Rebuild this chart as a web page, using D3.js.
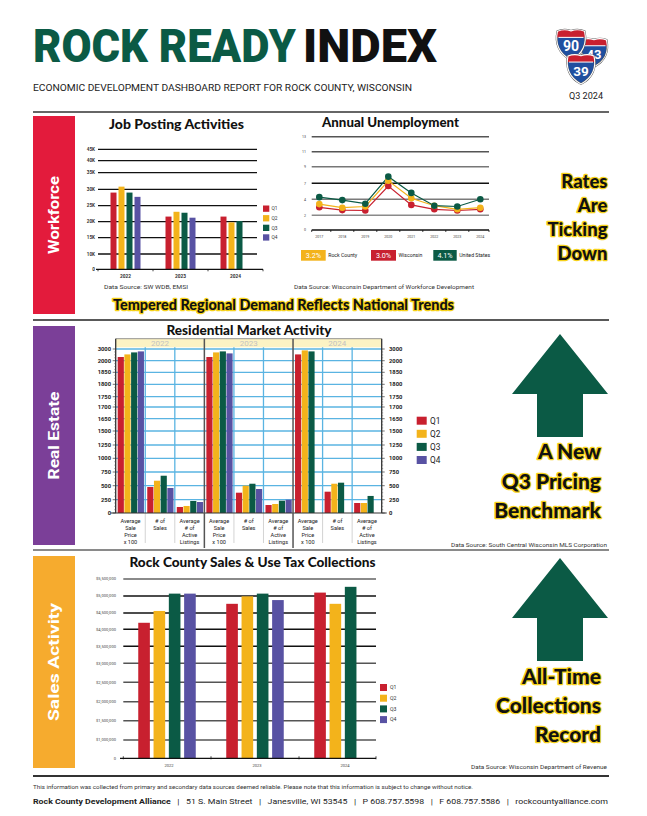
<!DOCTYPE html>
<html><head><meta charset="utf-8">
<script src="https://cdn.jsdelivr.net/npm/d3@7"></script>
<style>body{margin:0;background:#fff}svg{display:block}</style>
</head><body>
<svg id="c" width="647" height="816"></svg>
<script>
// ---------------- DATA ----------------
const quarters = ["Q1","Q2","Q3","Q4"];

const jobYears = ["2022","2023","2024"];
const jobQ1 = [29000, 21600, 21600];
const jobQ2 = [30800, 23100, 19800];
const jobQ3 = [29000, 22800, 20200];
const jobQ4 = [27700, 21250, null];
const jobTicks = [0,10000,15000,20000,25000,30000,35000,40000,45000];
const jobTickLabels = ["0","10K","15K","20K","25K","30K","35K","40K","45K"];

const unempYears = ["2017","2018","2019","2020","2021","2022","2023","2024"];
const rockCounty   = [3.4, 2.95, 3.1, 7.3, 4.2, 3.2, 2.75, 2.95];
const wisconsin    = [3.0, 2.65, 2.6, 6.5, 3.3, 2.75, 2.6, 2.75];
const unitedStates = [4.4, 3.9, 3.45, 7.8, 5.2, 3.2, 3.1, 4.0];
const unempTicks = [0,2,4,7,9,11,13];
const unempNames = ["Rock County","Wisconsin","United States"];
const unempLatest = ["3.2%","3.0%","4.1%"];

const resYears = ["2022","2023","2024"];
const resMetrics = ["price","sales","listings"];
const resMetricLabels = [["Average","Sale","Price","x 100"],["# of","Sales"],["Average","# of","Active","Listings"]];
// order: 2022 (price, sales, listings), 2023 (...), 2024 (...)
const resQ1 = [2316, 477, 113, 2316, 375, 150, 2538, 393, 188];
const resQ2 = [2538, 591, 132, 2709, 500, 169, 2880, 536, 188];
const resQ3 = [2709, 682, 226, 2795, 536, 231, 2795, 555, 317];
const resQ4 = [2795, 459, 207, 2624, 441, 250, null, null, null];
const resTicks = [0,250,500,750,1000,1250,1500,1650,1700,1750,1800,1850,2000,3000];

const salesYears = ["2022","2023","2024"];
const salesQ1 = [4200000, 4770000, 5100000];
const salesQ2 = [4560000, 4990000, 4770000];
const salesQ3 = [5070000, 5070000, 5270000];
const salesQ4 = [5070000, 4880000, null];
const salesTicks = [0,1000000,1500000,2000000,2500000,3000000,3500000,4000000,4500000,5000000,5500000];

// ---------------- STYLE ----------------
const GREEN = "#0b5a45";
const qColors = ["#c8202f","#f3b31b","#0b5a45","#5852a3"];
const SANS = "Roboto, 'Noto Sans', 'Liberation Sans', sans-serif";
const HEAVY = "Lato, 'Open Sans', 'DejaVu Sans', sans-serif";
const svg = d3.select("#c");
svg.append("rect").attr("width",647).attr("height",816).attr("fill","#fff");

function T(p, x, y, s, o = {}) {
  const t = p.append("text").attr("x", x).attr("y", y).text(s)
    .attr("font-family", o.ff || SANS).attr("font-size", o.fs || 6)
    .attr("fill", o.fill || "#222").attr("font-weight", o.fw || 400)
    .attr("text-anchor", o.anchor || "start");
  if (o.len) t.attr("textLength", o.len).attr("lengthAdjust", "spacingAndGlyphs");
  if (o.glow) t.attr("stroke", "#f6d21a").attr("stroke-width", o.glow).attr("paint-order", "stroke").attr("stroke-linejoin", "round");
  return t;
}
function L(p, x1, y1, x2, y2, c, w) {
  return p.append("line").attr("x1",x1).attr("y1",y1).attr("x2",x2).attr("y2",y2).attr("stroke",c).attr("stroke-width",w);
}
// text squeezed horizontally to a target width via a transform
function fitText(x, y, s, width, o) {
  const g = svg.append("g");
  const t = T(g, 0, 0, s, o);
  const w = t.node().getComputedTextLength() || width;
  g.attr("transform", `translate(${x},${y}) scale(${width / w},1)`);
  return t;
}

// ---------------- HEADER ----------------
fitText(33, 62, "ROCK READY", 263, {ff:"Roboto, 'Liberation Sans', sans-serif", fw:900, fs:47, fill:GREEN});
fitText(303, 62, "INDEX", 134, {ff:"Roboto, 'Liberation Sans', sans-serif", fw:900, fs:47, fill:"#111"});
T(svg, 33, 91, "ECONOMIC DEVELOPMENT DASHBOARD REPORT FOR ROCK COUNTY, WISCONSIN", {fs:9.5, len:379, fill:"#222"});
T(svg, 586, 99, "Q3 2024", {fs:8.5, anchor:"middle", len:34, fill:"#222"});

// interstate shields
const defs = svg.append("defs");
function shield(id, cx, top, w, label) {
  const h = w * 1.15, x0 = cx - w / 2;
  const p = d3.path();
  p.moveTo(x0, top + h * 0.07);
  p.quadraticCurveTo(x0 + w * 0.25, top - h * 0.02, cx, top + h * 0.06);
  p.quadraticCurveTo(x0 + w * 0.75, top - h * 0.02, x0 + w, top + h * 0.07);
  p.bezierCurveTo(x0 + w * 1.1, top + h * 0.45, x0 + w * 0.95, top + h * 0.8, cx, top + h);
  p.bezierCurveTo(x0 + w * 0.05, top + h * 0.8, x0 - w * 0.1, top + h * 0.45, x0, top + h * 0.07);
  p.closePath();
  defs.append("clipPath").attr("id", id).append("path").attr("d", p.toString());
  const g = svg.append("g");
  g.append("path").attr("d", p.toString()).attr("fill", "#1f4f9f").attr("stroke", "#555").attr("stroke-width", 2);
  g.append("rect").attr("x", x0 - 3).attr("y", top - 3).attr("width", w + 6).attr("height", h * 0.27 + 3)
    .attr("fill", "#c8202f").attr("clip-path", `url(#${id})`);
  g.append("path").attr("d", p.toString()).attr("fill", "none").attr("stroke", "#fff").attr("stroke-width", 1.1);
  L(g, x0 + 1, top + h * 0.27, x0 + w - 1, top + h * 0.27, "#fff", 1);
  T(g, cx, top + h * 0.72, label, {fs: w * 0.52, fw: 700, fill: "#fff", anchor: "middle", ff: "Roboto, sans-serif"});
}
shield("s43", 594, 38, 25, "43");
shield("s90", 571, 29, 27, "90");
shield("s39", 581, 54, 26, "39");

// ---------------- SECTION FRAMES ----------------
L(svg, 33, 112, 609, 112, "#333", 1.5);
L(svg, 33, 320, 609, 320, "#222", 1.5);
L(svg, 33, 550, 609, 550, "#8a8a8a", 2);
L(svg, 33, 776, 609, 776, "#333", 2);

const sections = [
  {name:"Workforce", color:"#e31b3c", y0:116, y1:314, len:78},
  {name:"Real Estate", color:"#7b3f98", y0:326, y1:545, len:88},
  {name:"Sales Activity", color:"#f6ab2e", y0:556, y1:768, len:118}
];
sections.forEach(s => {
  svg.append("rect").attr("x",33).attr("y",s.y0).attr("width",42).attr("height",s.y1-s.y0).attr("fill",s.color);
  const cy = (s.y0 + s.y1) / 2;
  T(svg, 0, 0, s.name, {fs:15, fw:700, fill:"#fff", anchor:"middle", len:s.len})
    .attr("transform", `translate(59,${cy}) rotate(-90)`);
});

// ---------------- JOB POSTING ----------------
{
  const g = svg.append("g");
  T(g, 176.5, 128.5, "Job Posting Activities", {ff:HEAVY, fw:900, fs:12.5, anchor:"middle", len:135, fill:"#111"});
  const y = d3.scaleLinear().domain(jobTicks).range([269.3,254,237.7,221.7,205.7,189.3,172.7,160.7,149.3]);
  const x = d3.scaleBand().domain(jobYears).range([98, 263]);
  const xq = d3.scaleBand().domain(quarters).range([-15, 15]).paddingInner(0.25);
  jobTicks.forEach((t, i) => {
    if (t > 0) L(g, 98, y(t), 257, y(t), "#111", 1.3);
    T(g, 95, y(t) + 1.6, jobTickLabels[i], {fs:4.6, fw:700, anchor:"end", fill:"#333"});
  });
  const series = [jobQ1, jobQ2, jobQ3, jobQ4];
  series.forEach((s, qi) => {
    s.forEach((v, yi) => {
      if (v == null) return;
      const yr = jobYears[yi];
      g.append("rect").attr("x", x(yr) + x.bandwidth()/2 + xq(quarters[qi])).attr("y", y(v))
        .attr("width", xq.bandwidth()).attr("height", y(0) - y(v)).attr("fill", qColors[qi]);
    });
  });
  L(g, 96, y(0), 263, y(0), "#111", 1.3);
  [98, 153, 208, 263].forEach(v => L(g, v, y(0), v, y(0) + 2, "#111", 0.8));
  jobYears.forEach(yr => T(g, x(yr) + x.bandwidth()/2, 277.5, yr, {fs:4.8, fw:700, anchor:"middle", fill:"#333"}));
  quarters.forEach((q, i) => {
    const yy = 205.5 + i * 9.6;
    g.append("rect").attr("x", 263).attr("y", yy).attr("width", 6.3).attr("height", 6.3).attr("fill", qColors[i]);
    T(g, 271.5, yy + 4.8, q, {fs:4.8, fill:"#333"});
  });
  T(g, 104, 288.5, "Data Source: SW WDB, EMSI", {fs:5.8, len:84, fill:"#333"});
}

// ---------------- UNEMPLOYMENT ----------------
{
  const g = svg.append("g");
  T(g, 390.5, 126.5, "Annual Unemployment", {ff:HEAVY, fw:900, fs:12.5, anchor:"middle", len:137, fill:"#111"});
  const x = d3.scalePoint().domain(unempYears).range([319.3, 480.3]);
  const y = d3.scaleLinear().domain(unempTicks).range([230,215.3,199.3,183.3,166.7,151.7,136.7]);
  const gridCol = {2:"#8a8a8a", 4:"#7a7a7a", 7:"#111", 9:"#777", 11:"#555", 13:"#555"};
  unempTicks.forEach(t => {
    if (t > 0) L(g, 311.7, y(t), 489, y(t), gridCol[t], 1.4);
    T(g, 306, y(t) + 1.2, String(t), {fs:3.6, fill:"#444", anchor:"end"});
  });
  L(g, 311.7, y(0), 489, y(0), "#111", 1.5);
  const step = x.step();
  for (let i = 0; i <= unempYears.length; i++) {
    const xx = Math.min(489, Math.max(311.7, x(unempYears[0]) - step/2 + i*step));
    L(g, xx, y(0), xx, y(0) + 2, "#111", 0.8);
  }
  unempYears.forEach(yr => T(g, x(yr), 238, yr, {fs:3.6, fill:"#444", anchor:"middle"}));
  const lines = [
    {data: wisconsin, color: "#c8202f"},
    {data: rockCounty, color: "#f3b31b"},
    {data: unitedStates, color: GREEN}
  ];
  const ln = d3.line().x((d, i) => x(unempYears[i])).y(d => y(d));
  lines.forEach(s => {
    g.append("path").attr("d", ln(s.data)).attr("fill", "none").attr("stroke", s.color).attr("stroke-width", 1.2);
  });
  lines.forEach(s => {
    s.data.forEach((v, i) => g.append("circle").attr("cx", x(unempYears[i])).attr("cy", y(v)).attr("r", 3.3).attr("fill", s.color));
  });
  const legCols = ["#f3b31b", "#c8202f", GREEN];
  const legX = [301, 371, 433.3];
  const legW = [24.7, 25, 23.4];
  unempNames.forEach((n, i) => {
    g.append("rect").attr("x", legX[i]).attr("y", 250).attr("width", legW[i]).attr("height", 10.7).attr("fill", legCols[i]);
    T(g, legX[i] + legW[i]/2, 258.3, unempLatest[i], {fs:7.2, fill:"#fff", anchor:"middle"});
    T(g, legX[i] + legW[i] + 2.5, 256.5, n, {fs:5.2, fill:"#222"});
  });
  T(g, 294, 288.5, "Data Source: Wisconsin Department of Workforce Development", {fs:5.8, len:180, fill:"#333"});
}

T(svg, 283.5, 309.5, "Tempered Regional Demand Reflects National Trends", {ff:HEAVY, fw:900, fs:14.5, anchor:"middle", len:341, fill:"#111", glow:2.6});

// right-side messages
[["Rates",188],["Are",212],["Ticking",236],["Down",260]].forEach(d =>
  T(svg, 607.5, d[1], d[0], {ff:HEAVY, fw:900, fs:18.5, anchor:"end", fill:"#111", glow:2.6}));
[["A New",459],["Q3 Pricing",488.5],["Benchmark",517.5]].forEach(d =>
  T(svg, 601, d[1], d[0], {ff:HEAVY, fw:900, fs:21, anchor:"end", fill:"#111", glow:2.6}));
[["All-Time",684],["Collections",713],["Record",742]].forEach(d =>
  T(svg, 601, d[1], d[0], {ff:HEAVY, fw:900, fs:21, anchor:"end", fill:"#111", glow:2.6}));

function arrow(top) {
  const pts = [[560, top],[608, top + 60],[583, top + 60],[583, top + 103],[537, top + 103],[537, top + 60],[512, top + 60]];
  svg.append("polygon").attr("points", pts.map(p => p.join(",")).join(" ")).attr("fill", GREEN);
}
arrow(334);
arrow(558);

// ---------------- RESIDENTIAL ----------------
{
  const g = svg.append("g");
  T(g, 249, 334.5, "Residential Market Activity", {ff:HEAVY, fw:900, fs:12.5, anchor:"middle", len:165, fill:"#111"});
  const X0 = 115.7, X1 = 381.7, YT = 338.7, YH = 347.3;
  const y = d3.scaleLinear().domain(resTicks)
    .range([513,499.7,485.7,472,458.3,445,431,418.7,407,396.7,384.3,372.3,360.7,349]);
  const xy = d3.scaleBand().domain(resYears).range([X0, X1]);
  const xm = d3.scaleBand().domain(resMetrics).range([0, xy.bandwidth()]);
  const xq = d3.scaleBand().domain(quarters).range([2, xm.bandwidth() - 1.3]).paddingInner(0.08);
  g.append("rect").attr("x", X0).attr("y", YT).attr("width", X1 - X0).attr("height", YH - YT).attr("fill", "#fcf3c4");
  L(g, X0, YT, X1, YT, "#777", 0.8);
  resYears.forEach(yr => T(g, xy(yr) + xy.bandwidth()/2, 346, yr, {fs:8, fill:"#c2c2c2", anchor:"middle"}));
  resTicks.forEach(t => { if (t > 0) L(g, X0, y(t), X1, y(t), "#5ab4e2", 1.3); });
  resYears.forEach(yr => {
    [1, 2].forEach(k => {
      const xx = xy(yr) + xm.step() * k;
      L(g, xx, YH, xx, y(0), "#5ab4e2", 1.3);
      L(g, xx, y(0), xx, 543, "#b5b5b5", 0.6);
    });
  });
  const series = [resQ1, resQ2, resQ3, resQ4];
  series.forEach((s, qi) => {
    resYears.forEach((yr, yi) => {
      resMetrics.forEach((m, mi) => {
        const v = s[yi * 3 + mi];
        if (v == null) return;
        g.append("rect").attr("x", xy(yr) + xm(m) + xq(quarters[qi])).attr("y", y(v))
          .attr("width", xq.bandwidth()).attr("height", y(0) - y(v)).attr("fill", qColors[qi]);
      });
    });
  });
  L(g, X0 - 5, y(0), X1 + 5, y(0), "#333", 1.2);
  L(g, X0, YT, X0, y(0), "#333", 1.3);
  L(g, X1, YT, X1, y(0), "#333", 1.3);
  resYears.slice(1).forEach(yr => L(g, xy(yr), YT, xy(yr), 548, "#555", 1.5));
  resTicks.forEach((t, i) => {
    L(g, X0 - 3, y(t), X0, y(t), "#333", 0.7);
    L(g, X1, y(t), X1 + 3, y(t), "#333", 0.7);
    if (i < resTicks.length - 1) {
      const a = y(t), b = y(resTicks[i + 1]);
      for (let k = 1; k < 4; k++) {
        const yy = a + (b - a) * k / 4;
        L(g, X0 - 1.5, yy, X0, yy, "#555", 0.5);
        L(g, X1, yy, X1 + 1.5, yy, "#555", 0.5);
      }
    }
    T(g, 111, y(t) + 2, String(t), {fs:5.8, fw:700, anchor:"end", fill:"#222"});
    T(g, 389, y(t) + 2, String(t), {fs:5.8, fw:700, anchor:"start", fill:"#222"});
  });
  resYears.forEach(yr => {
    resMetrics.forEach((m, mi) => {
      resMetricLabels[mi].forEach((ln, li) => {
        T(g, xy(yr) + xm(m) + xm.bandwidth()/2, 522.5 + li * 7, ln, {fs:5.6, anchor:"middle", fill:"#222"});
      });
    });
  });
  quarters.forEach((q, i) => {
    const yy = 416.7 + i * 13.1;
    g.append("rect").attr("x", 416.7).attr("y", yy).attr("width", 10).attr("height", 8).attr("fill", qColors[i]);
    T(g, 430, yy + 7, q, {fs:8.3, fill:"#222"});
  });
  T(g, 607, 547, "Data Source: South Central Wisconsin MLS Corporation", {fs:5.4, anchor:"end", len:156, fill:"#333"});
}

// ---------------- SALES TAX ----------------
{
  const g = svg.append("g");
  T(g, 252.5, 567, "Rock County Sales & Use Tax Collections", {ff:HEAVY, fw:900, fs:12.5, anchor:"middle", len:246, fill:"#111"});
  const y = d3.scaleLinear().domain(salesTicks)
    .range([758.3,740,720.7,701.7,682.3,663.3,646.3,629.3,613,596,579]);
  const x = d3.scaleBand().domain(salesYears).range([123, 387]);
  const xq = d3.scaleBand().domain(quarters).range([-28.75, 28.75]).paddingInner(0.24);
  const fmt = d3.format(",");
  salesTicks.forEach(t => {
    if (t > 0) {
      const c = t === 5500000 ? "#8a8a8a" : (t >= 3500000 ? "#111" : "#555");
      L(g, 123.3, y(t), 376, y(t), c, t === 5500000 ? 2 : 1.4);
    }
    T(g, 116, y(t) + 1.4, t === 0 ? "0" : "$" + fmt(t), {fs:4.1, fill:"#444", anchor:"end"});
  });
  const series = [salesQ1, salesQ2, salesQ3, salesQ4];
  series.forEach((s, qi) => {
    s.forEach((v, yi) => {
      if (v == null) return;
      const yr = salesYears[yi];
      g.append("rect").attr("x", x(yr) + x.bandwidth()/2 + xq(quarters[qi])).attr("y", y(v))
        .attr("width", xq.bandwidth()).attr("height", y(0) - y(v)).attr("fill", qColors[qi]);
    });
  });
  L(g, 120, y(0), 376, y(0), "#111", 1.3);
  [123.3, 211, 299, 376].forEach(v => L(g, v, y(0) - 2, v, y(0) + 1, "#111", 0.8));
  salesYears.forEach(yr => T(g, x(yr) + x.bandwidth()/2 + 2, 767, yr, {fs:4.1, fill:"#444", anchor:"middle"}));
  quarters.forEach((q, i) => {
    const yy = 684 + i * 10.7;
    g.append("rect").attr("x", 380).attr("y", yy).attr("width", 7).attr("height", 7).attr("fill", qColors[i]);
    T(g, 390, yy + 5.3, q, {fs:5.2, fill:"#333"});
  });
  T(g, 607, 768.5, "Data Source: Wisconsin Department of Revenue", {fs:5.4, anchor:"end", len:136, fill:"#333"});
}

// ---------------- FOOTER ----------------
T(svg, 33, 789, "This information was collected from primary and secondary data sources deemed reliable. Please note that this information is subject to change without notice.", {fs:5.6, len:440, fill:"#333"});
{
  const f = svg.append("text").attr("x", 33).attr("y", 803.5).attr("font-family", SANS).attr("font-size", 7.3)
    .attr("fill", "#222").attr("textLength", 575).attr("lengthAdjust", "spacingAndGlyphs").attr("xml:space","preserve");
  f.append("tspan").attr("font-weight", 700).text("Rock County Development Alliance");
  f.append("tspan").text("   |   51 S. Main Street   |   Janesville, WI 53545   |   P 608.757.5598   |   F 608.757.5586   |   rockcountyalliance.com");
}
</script>
</body></html>
